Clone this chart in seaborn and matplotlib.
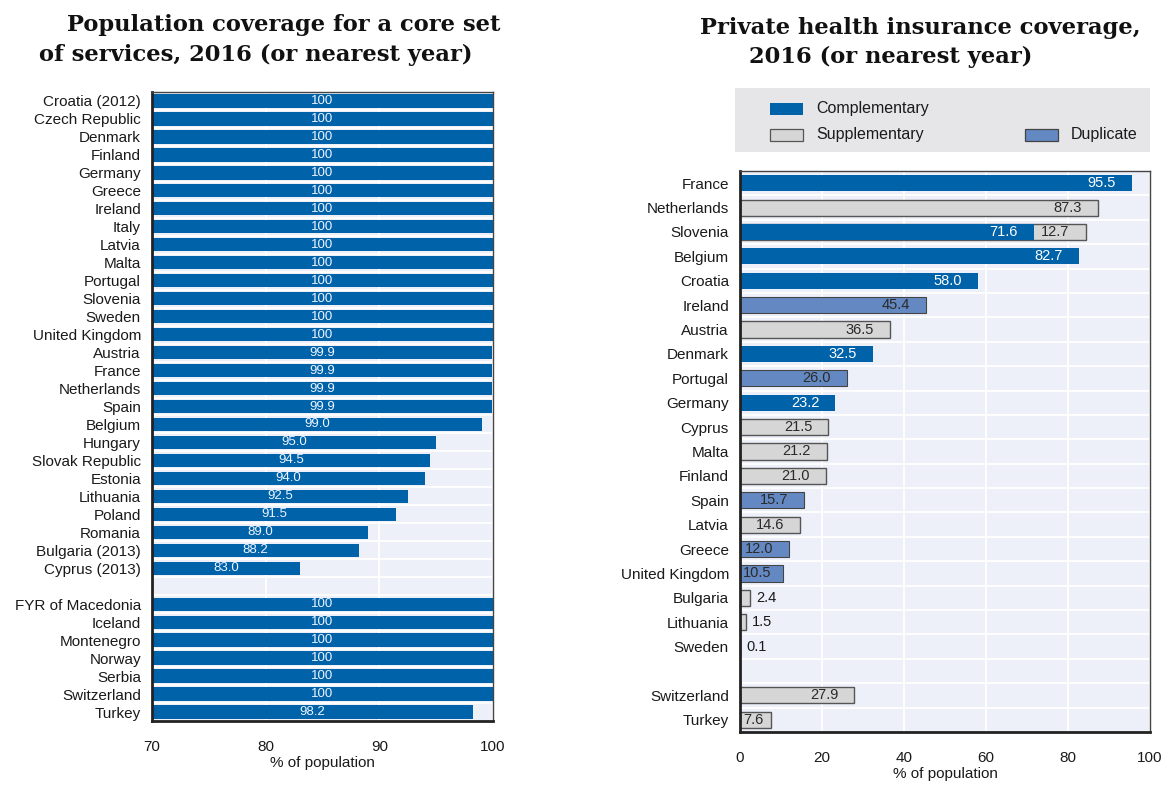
import numpy as np
import pandas as pd
import matplotlib
matplotlib.use("Agg")
import matplotlib.pyplot as plt
import seaborn as sns
from matplotlib.patches import Rectangle

# ---------------- data ----------------
left_countries = ["Croatia (2012)", "Czech Republic", "Denmark", "Finland", "Germany",
                  "Greece", "Ireland", "Italy", "Latvia", "Malta", "Portugal", "Slovenia",
                  "Sweden", "United Kingdom", "Austria", "France", "Netherlands", "Spain",
                  "Belgium", "Hungary", "Slovak Republic", "Estonia", "Lithuania", "Poland",
                  "Romania", "Bulgaria (2013)", "Cyprus (2013)"]
left_values = [100, 100, 100, 100, 100, 100, 100, 100, 100, 100, 100, 100, 100, 100,
               99.9, 99.9, 99.9, 99.9, 99.0, 95.0, 94.5, 94.0, 92.5, 91.5, 89.0, 88.2, 83.0]
left_other = ["FYR of Macedonia", "Iceland", "Montenegro", "Norway", "Serbia",
              "Switzerland", "Turkey"]
left_other_values = [100, 100, 100, 100, 100, 100, 98.2]

right_countries = ["France", "Netherlands", "Slovenia", "Belgium", "Croatia", "Ireland",
                   "Austria", "Denmark", "Portugal", "Germany", "Cyprus", "Malta", "Finland",
                   "Spain", "Latvia", "Greece", "United Kingdom", "Bulgaria", "Lithuania",
                   "Sweden"]
right_other = ["Switzerland", "Turkey"]
nan = np.nan
complementary = [95.5, nan, 71.6, 82.7, 58.0, nan, nan, 32.5, nan, 23.2, nan, nan, nan,
                 nan, nan, nan, nan, nan, nan, nan, nan, nan]
supplementary = [nan, 87.3, 12.7, nan, nan, nan, 36.5, nan, nan, nan, 21.5, 21.2, 21.0,
                 nan, 14.6, nan, nan, 2.4, 1.5, 0.1, 27.9, 7.6]
duplicate = [nan, nan, nan, nan, nan, 45.4, nan, nan, 26.0, nan, nan, nan, nan, 15.7,
             nan, 12.0, 10.5, nan, nan, nan, nan, nan]

left_xticks = [70, 80, 90, 100]
right_xticks = [0, 20, 40, 60, 80, 100]

title_left = ["Population coverage for a core set", "of services, 2016 (or nearest year)"]
title_right = ["Private health insurance coverage,", "2016 (or nearest year)"]
xlabel = "% of population"
legend_labels = ["Complementary", "Supplementary", "Duplicate"]

# ---------------- style ----------------
C_COMP = "#0062a9"
C_SUPP = "#d6d6d6"
C_DUP = "#6489c2"
BG = "#edf0f8"
LEG_BG = "#e6e6e8"
TXT = "#1a1a1a"

sns.set_theme(style="white")
plt.rcParams["font.family"] = ["Liberation Sans Narrow", "Liberation Sans", "DejaVu Sans"]

fig = plt.figure(figsize=(11.66, 7.85), dpi=100)
W, H = 1166, 785


def px_axes(l, t, r, b):
    return fig.add_axes([l / W, 1 - b / H, (r - l) / W, (b - t) / H])


def style_axes(ax, n_slots, xticks):
    ax.set_facecolor(BG)
    ax.set_ylim(n_slots - 0.5, -0.5)
    ax.set_xticks(xticks)
    ax.set_yticks(np.arange(-0.5, n_slots - 0.5, 1.0), minor=True)
    ax.grid(axis="x", which="major", color="white", linewidth=1.3)
    ax.grid(axis="y", which="minor", color="white", linewidth=1.3)
    ax.grid(axis="y", which="major", visible=False)
    ax.set_axisbelow(True)
    ax.tick_params(axis="y", which="major", length=0, pad=8, labelsize=11, labelcolor=TXT)
    ax.tick_params(axis="y", which="minor", length=4, direction="in", color="#333333", width=1)
    ax.tick_params(axis="x", which="major", length=4, direction="in", color="#333333",
                   pad=14, labelsize=11, labelcolor=TXT)
    for s in ["left", "bottom"]:
        ax.spines[s].set_color("#222222")
        ax.spines[s].set_linewidth(2.0)
    for s in ["top", "right"]:
        ax.spines[s].set_color("#444444")
        ax.spines[s].set_linewidth(1.0)
    ax.set_xlabel(xlabel, fontsize=11, color=TXT, labelpad=1)
    ax.set_ylabel("")


# ---------------- left chart ----------------
axL = px_axes(152, 92, 493, 721)
left_order = left_countries + [" "] + left_other
dfL = pd.DataFrame({"country": left_countries + left_other,
                    "value": left_values + left_other_values})
sns.barplot(data=dfL, x="value", y="country", order=left_order, orient="y",
            color=C_COMP, saturation=1, width=0.74, ax=axL, linewidth=0)
axL.set_xlim(70, 100)
style_axes(axL, len(left_order), left_xticks)
for i, c in enumerate(left_order):
    if c.strip() == "":
        continue
    v = dfL.loc[dfL.country == c, "value"].iloc[0]
    lab = "100" if v == 100 else f"{v:.1f}"
    axL.text((70 + v) / 2, i, lab, ha="center", va="center", fontsize=9.5,
             color="#eef4ff")

# ---------------- right chart ----------------
axR = px_axes(740, 171, 1150, 732)
right_order = right_countries + [" "] + right_other
all_right = right_countries + right_other
comp = np.array(complementary, dtype=float)
supp = np.array(supplementary, dtype=float)
dup = np.array(duplicate, dtype=float)
supp_end = np.nan_to_num(comp) + supp  # stacked after complementary

dfS = pd.DataFrame({"country": all_right, "value": supp_end}).dropna()
dfD = pd.DataFrame({"country": all_right, "value": dup}).dropna()
dfC = pd.DataFrame({"country": all_right, "value": comp}).dropna()

sns.barplot(data=dfS, x="value", y="country", order=right_order, orient="y",
            color=C_SUPP, saturation=1, width=0.66, ax=axR, edgecolor="#555555",
            linewidth=1.0)
sns.barplot(data=dfD, x="value", y="country", order=right_order, orient="y",
            color=C_DUP, saturation=1, width=0.66, ax=axR, edgecolor="#444444",
            linewidth=0.8)
sns.barplot(data=dfC, x="value", y="country", order=right_order, orient="y",
            color=C_COMP, saturation=1, width=0.66, ax=axR, linewidth=0)
axR.set_xlim(0, 100)
style_axes(axR, len(right_order), right_xticks)


def seg_label(ax, y, start, end, val, color):
    txt = f"{val:.1f}"
    if val < 5:
        ax.text(end + 1.5, y, txt, ha="left", va="center", fontsize=10.5, color=TXT)
    elif end - start < 12:
        ax.text(start + 0.8, y, txt, ha="left", va="center", fontsize=10.5, color=color)
    else:
        ax.text(end - 3.9, y, txt, ha="right", va="center", fontsize=10.5, color=color)


for c_i, c in enumerate(all_right):
    y = right_order.index(c)
    cv, sv, dv = comp[c_i], supp[c_i], dup[c_i]
    if not np.isnan(cv):
        seg_label(axR, y, 0, cv, cv, "white")
    if not np.isnan(sv):
        st = 0 if np.isnan(cv) else cv
        seg_label(axR, y, st, st + sv, sv, "#2a2a2a")
    if not np.isnan(dv):
        seg_label(axR, y, 0, dv, dv, "#2a2a2a")

# ---------------- legend ----------------
fig.patches.append(Rectangle((735 / W, 1 - 152 / H), (1150 - 735) / W, (152 - 88) / H,
                             transform=fig.transFigure, facecolor=LEG_BG, edgecolor="none",
                             zorder=0))
leg_items = [(770, 109, C_COMP, "none", legend_labels[0]),
             (770, 135, C_SUPP, "#555555", legend_labels[1]),
             (1025, 135, C_DUP, "#444444", legend_labels[2])]
for x0, yc, fc, ec, lab in leg_items:
    fig.patches.append(Rectangle((x0 / W, 1 - (yc + 6) / H), 33 / W, 12 / H,
                                 transform=fig.transFigure, facecolor=fc, edgecolor=ec,
                                 linewidth=0.9, zorder=2))
    fig.text((x0 + 46) / W, 1 - yc / H, lab, ha="left", va="center", fontsize=11.5,
             color=TXT)

# ---------------- titles ----------------
tkw = dict(ha="center", va="center", fontsize=16.3, fontweight="bold", color="#111111",
           family="DejaVu Serif")
fig.text(284 / W, 1 - 25 / H, title_left[0], **tkw)
fig.text(256 / W, 1 - 55 / H, title_left[1], **tkw)
fig.text(920 / W, 1 - 28 / H, title_right[0], **tkw)
fig.text(891 / W, 1 - 57 / H, title_right[1], **tkw)

fig.savefig("out.png", dpi=100, facecolor="white")
